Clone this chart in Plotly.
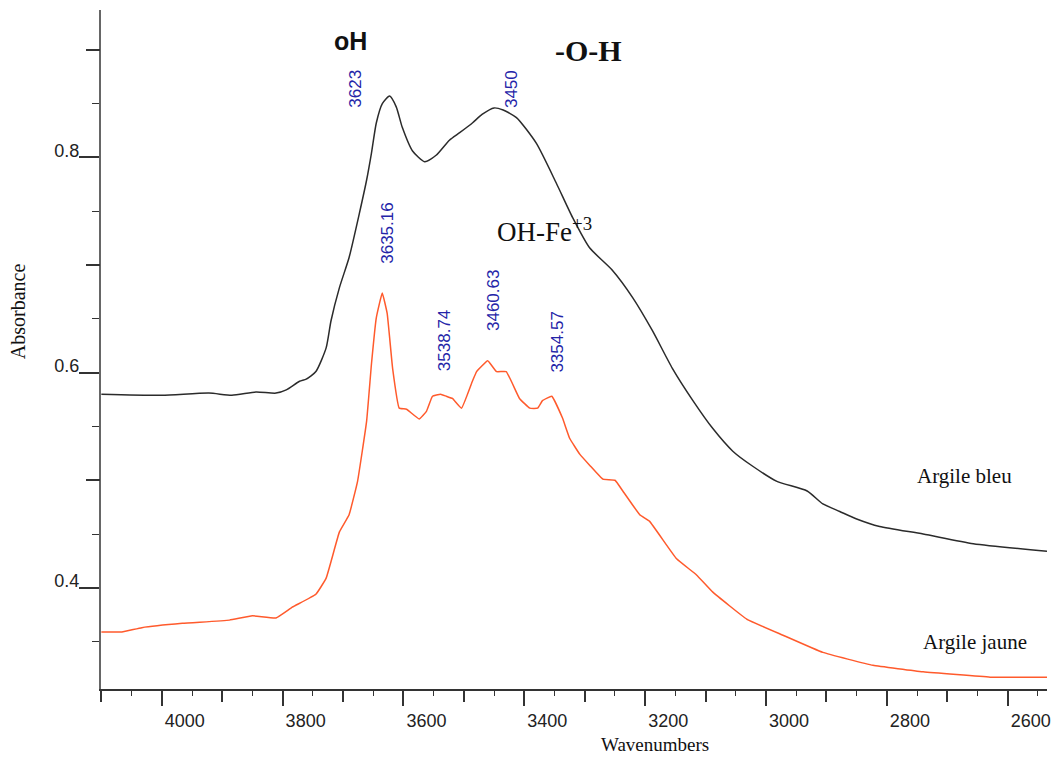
import plotly.graph_objects as go

# IR spectra of two clays (absorbance vs wavenumber, cm-1)
wn_bleu = [4100, 4000, 3922, 3884, 3844, 3811, 3794, 3772, 3761, 3745, 3728, 3720,
           3706, 3690, 3673, 3661, 3653, 3645, 3635, 3623, 3612, 3602, 3585, 3565,
           3546, 3524, 3507, 3486, 3470, 3450, 3435, 3413, 3380, 3347, 3320, 3292,
           3254, 3221, 3188, 3155, 3121, 3088, 3055, 3022, 2982, 2932, 2906, 2878,
           2850, 2812, 2740, 2657, 2535]
abs_bleu = [0.580, 0.579, 0.581, 0.579, 0.582, 0.581, 0.584, 0.592, 0.594, 0.601, 0.623, 0.648,
            0.679, 0.707, 0.748, 0.779, 0.804, 0.832, 0.850, 0.857, 0.847, 0.828, 0.806, 0.796,
            0.802, 0.816, 0.823, 0.832, 0.840, 0.846, 0.844, 0.837, 0.813, 0.776, 0.744, 0.716,
            0.695, 0.670, 0.639, 0.604, 0.574, 0.548, 0.527, 0.513, 0.499, 0.490, 0.478, 0.471,
            0.464, 0.457, 0.450, 0.441, 0.434]

wn_jaune = [4100, 4066, 4033, 3966, 3888, 3850, 3811, 3784, 3745, 3728, 3706, 3690,
            3676, 3661, 3653, 3645, 3635.16, 3627, 3618, 3607, 3595, 3574, 3562, 3552,
            3538.74, 3529, 3519, 3504, 3486, 3479, 3460.63, 3446, 3430, 3408, 3391, 3378,
            3370, 3354.57, 3337, 3325, 3308, 3292, 3270, 3250, 3237, 3209, 3193, 3148,
            3115, 3088, 3032, 2972, 2906, 2823, 2740, 2629, 2535]
abs_jaune = [0.359, 0.359, 0.363, 0.367, 0.370, 0.374, 0.372, 0.382, 0.394, 0.409, 0.452, 0.468,
             0.499, 0.555, 0.608, 0.651, 0.674, 0.655, 0.604, 0.567, 0.566, 0.557, 0.564, 0.578,
             0.580, 0.578, 0.576, 0.567, 0.592, 0.601, 0.611, 0.601, 0.601, 0.576, 0.567, 0.567,
             0.574, 0.578, 0.558, 0.539, 0.524, 0.514, 0.501, 0.500, 0.490, 0.468, 0.462, 0.427,
             0.412, 0.396, 0.371, 0.356, 0.340, 0.328, 0.322, 0.317, 0.317]

peaks_bleu = [3623, 3450]
peaks_jaune = [3635.16, 3538.74, 3460.63, 3354.57]
peak_text_bleu = ["3623", "3450"]
peak_text_jaune = ["3635.16", "3538.74", "3460.63", "3354.57"]

x_tick_vals = [4000, 3800, 3600, 3400, 3200, 3000, 2800, 2600]
x_mid_vals = [4100, 3900, 3700, 3500, 3300, 3100, 2900, 2700]
y_tick_vals = [0.4, 0.6, 0.8]
y_mid_vals = [0.3, 0.5, 0.7, 0.9]

X_RANGE = [4100.6, 2535]
Y_RANGE = [0.306, 0.937]

BLACK = "#2b2b2b"
ORANGE = "#ff5a2c"
BLUE = "#2424a8"
SANS = "Liberation Sans, Arial, sans-serif"
SERIF = "Liberation Serif, Times New Roman, serif"

fig = go.Figure()
fig.add_trace(go.Scatter(x=wn_bleu, y=abs_bleu, mode="lines", name="Argile bleu",
                         line=dict(color=BLACK, width=1.5, shape="spline", smoothing=0.6)))
fig.add_trace(go.Scatter(x=wn_jaune, y=abs_jaune, mode="lines", name="Argile jaune",
                         line=dict(color=ORANGE, width=1.5, shape="spline", smoothing=0.3)))
# empty trace so the secondary (tick-only) axes get a subplot
fig.add_trace(go.Scatter(x=[], y=[], xaxis="x2", yaxis="y2", showlegend=False, hoverinfo="skip"))

# rotated peak labels, placed relative to each peak
def peak_labels(wn, ab, peaks, texts, shifts):
    lookup = dict(zip(wn, ab))
    for p, t, (dx, dy) in zip(peaks, texts, shifts):
        fig.add_annotation(x=p, y=lookup[p], text=t, textangle=-90, showarrow=False,
                           xanchor="center", yanchor="bottom", xshift=dx, yshift=dy,
                           font=dict(family=SANS, size=17, color=BLUE))

peak_labels(wn_bleu, abs_bleu, peaks_bleu, peak_text_bleu, [(-35, -14), (18, -2)])
peak_labels(wn_jaune, abs_jaune, peaks_jaune, peak_text_jaune,
            [(5, 27), (4, 21), (6, 28), (6, 22)])

fig.add_annotation(x=3688, y=0.908, text="<b>oH</b>", showarrow=False,
                   font=dict(family=SANS, size=25, color="#111"))
fig.add_annotation(x=3294, y=0.899, text="<b>-O-H</b>", showarrow=False,
                   font=dict(family=SERIF, size=30, color="#111"))
fig.add_annotation(x=3366, y=0.733, text="OH-Fe<sup>+3</sup>", showarrow=False,
                   font=dict(family=SERIF, size=27, color="#111"))
fig.add_annotation(x=2671, y=0.5036, text="Argile bleu", showarrow=False,
                   font=dict(family=SERIF, size=21, color="#111"))
fig.add_annotation(x=2654, y=0.350, text="Argile jaune", showarrow=False,
                   font=dict(family=SERIF, size=21, color="#111"))
fig.add_annotation(xref="paper", yref="paper", x=0.586, y=-0.082, text="Wavenumbers",
                   xanchor="center", yanchor="middle",
                   showarrow=False, font=dict(family=SERIF, size=19, color="#111"))
fig.add_annotation(xref="paper", yref="paper", x=-0.087, y=0.556, text="Absorbance",
                   xanchor="center", yanchor="middle",
                   textangle=-90, showarrow=False, font=dict(family=SERIF, size=20, color="#111"))

fig.update_layout(
    width=1060, height=758,
    margin=dict(l=101, r=13, t=10, b=69),
    paper_bgcolor="white", plot_bgcolor="white",
    showlegend=False,
    xaxis=dict(range=X_RANGE, showgrid=False, zeroline=False,
               showline=True, linecolor="#333", linewidth=1.5,
               ticks="outside", tickvals=x_tick_vals, ticklen=15, tickwidth=1.5, tickcolor="#333",
               ticklabelshift=-23, ticklabelstandoff=0,
               minor=dict(ticks="outside", dtick=50, tick0=4100, ticklen=5, tickwidth=1.2, tickcolor="#333"),
               tickfont=dict(family=SANS, size=18, color="#222")),
    xaxis2=dict(range=X_RANGE, overlaying="x", anchor="y", side="bottom", showgrid=False,
                zeroline=False, showline=False, ticks="outside", tickvals=x_mid_vals, ticklen=12,
                tickwidth=1.5, tickcolor="#333", showticklabels=False),
    yaxis=dict(range=Y_RANGE, showgrid=False, zeroline=False,
               showline=True, linecolor="#666", linewidth=2,
               ticks="outside", tickvals=y_tick_vals, ticktext=["0.4", "0.6", "0.8"],
               ticklen=20, tickwidth=1.5, tickcolor="#333",
               ticklabelshift=-7, ticklabelstandoff=-4,
               minor=dict(ticks="outside", dtick=0.05, tick0=0.3, ticklen=7, tickwidth=1.2, tickcolor="#333"),
               tickfont=dict(family=SANS, size=18, color="#222")),
    yaxis2=dict(range=Y_RANGE, overlaying="y", anchor="x", side="left", showgrid=False,
                zeroline=False, showline=False, ticks="outside", tickvals=y_mid_vals, ticklen=14,
                tickwidth=1.5, tickcolor="#333", showticklabels=False),
)

fig.write_html("out.html")
